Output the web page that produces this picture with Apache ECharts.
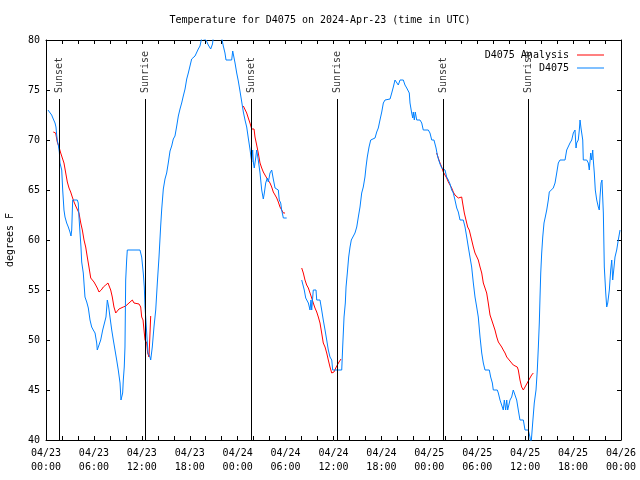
<!DOCTYPE html>
<html><head><meta charset="utf-8">
<script src="https://cdn.jsdelivr.net/npm/echarts@6/dist/echarts.min.js"></script>
<style>html,body{margin:0;padding:0;background:#fff}#c{width:640px;height:480px}</style>
</head><body><div id="c"></div>
<script>
const titleText = 'Temperature for D4075 on 2024-Apr-23 (time in UTC)';
const xTickLabels = ['04/23\n00:00','04/23\n06:00','04/23\n12:00','04/23\n18:00','04/24\n00:00','04/24\n06:00','04/24\n12:00','04/24\n18:00','04/25\n00:00','04/25\n06:00','04/25\n12:00','04/25\n18:00','04/26\n00:00'];
// hours since 04/23 00:00 UTC
const sunTimes = [1.67, 12.44, 25.7, 36.48, 49.77, 60.4];
const sunLabels = ['Sunset','Sunrise','Sunset','Sunrise','Sunset','Sunrise'];

const blueTime = [0.25,0.5,0.71,0.91,1.13,1.25,1.34,1.41,1.54,1.67,
1.75,1.97,2.09,2.25,2.38,2.59,2.79,3.0,3.13,3.22,
3.34,3.92,4.04,4.13,4.26,4.38,4.47,4.67,4.88,5.1,
5.3,5.51,5.72,5.92,6.14,6.35,6.42,6.67,6.85,7.1,
7.26,7.51,7.68,7.85,8.01,8.23,8.43,8.64,8.85,9.05,
9.27,9.39,9.6,9.68,9.8,9.89,9.98,10.1,10.18,11.77,
11.98,12.18,12.31,12.4,12.61,12.77,13.02,13.11,13.31,13.52,
13.74,13.94,14.15,14.36,14.49,14.69,14.9,15.11,15.31,15.53,
15.74,15.94,16.15,16.37,16.57,16.78,16.99,17.19,17.41,17.62,
17.82,18.03,18.24,18.66,19.07,19.28,19.5,20.04,20.32,20.62,
20.85,20.95,21.54,22.0,22.2,22.41,22.54,23.25,23.38,23.54,
23.67,23.88,24.08,24.29,24.51,24.71,24.92,25.13,25.33,25.54,
25.67,25.76,25.88,25.96,26.08,26.26,26.38,26.58,26.8,27.01,
27.21,27.34,27.51,27.71,27.84,28.05,28.26,28.46,28.68,29.09,
29.21,29.39,29.51,29.72,30.14,
31.0,
32.02,32.22,32.34,32.52,32.64,32.85,33.06,33.18,33.27,33.47,
33.81,33.9,34.31,34.52,34.72,34.94,35.15,35.35,35.56,35.78,
35.9,37.03,37.15,37.32,37.48,37.57,37.73,37.9,38.07,38.23,
38.48,38.69,38.91,39.11,39.32,39.53,39.73,39.94,40.07,40.23,
40.45,40.66,41.2,41.41,41.61,41.82,42.04,42.24,42.45,43.08,
43.29,43.49,43.7,43.91,44.11,44.33,44.74,44.95,45.17,45.37,
45.49,45.58,45.79,45.92,45.99,46.12,46.24,46.42,46.83,47.05,
47.24,47.87,48.08,48.3,48.58,48.84,49.0,49.17,49.34,49.55,
49.75,49.96,50.17,50.38,50.59,50.8,51.0,51.21,51.43,51.63,
51.84,52.25,52.47,52.68,52.88,53.09,53.3,53.51,53.72,53.93,
54.13,54.35,54.56,54.76,54.97,55.51,55.68,55.89,56.01,56.51,
56.64,56.85,57.06,57.26,57.39,57.56,57.69,57.81,58.01,58.1,
58.31,58.51,58.73,58.94,59.14,59.35,59.77,59.98,60.39,60.6,
60.73,60.94,61.14,61.36,61.52,61.65,61.77,61.86,61.95,62.07,
62.2,62.36,62.52,62.7,62.9,63.02,63.24,63.52,63.74,63.95,
64.15,64.36,64.99,65.2,65.4,65.61,65.83,66.03,66.24,66.37,
66.45,66.65,66.78,66.87,66.99,67.21,67.28,67.71,67.91,68.03,
68.21,68.33,68.46,68.53,68.66,68.78,68.96,69.16,69.28,69.37,
69.5,69.62,69.79,69.91,70.09,70.21,70.34,70.54,70.71,70.84,
70.96,71.09,71.25,71.46,71.66,71.88];
const blueTemp = [73,73,72.5,72.1,71.7,71.3,70.5,70,69.5,68.8,
67.7,67,65,63,62.3,61.7,61.3,60.8,60.4,61,
64,64,63.7,62.3,60.7,59.3,57.8,56.7,54.3,53.8,
53.2,52,51.3,51,50.7,49.7,49,49,50,51,
51,52.3,54,53.3,52.3,51,50,49,48,47,
45.7,44,44.7,46,47.3,49.3,56,58,59,59,
58.3,56.7,55.3,53.3,50.7,48.7,48.3,48,49.3,51.3,
53,55.7,58.3,61.4,63.1,65.1,66.1,66.7,67.7,68.9,
69.4,70.1,70.4,71.4,72.4,73.1,73.7,74.4,75.1,76.1,
76.7,77.4,78.1,78.4,79.1,79.4,80.2,80,79.5,79.1,
79.6,80.3,80.5,80.2,79.4,78.7,78,78,78.9,78.9,
77.7,76.7,75.9,74.9,73.8,72.8,72,71.3,70.2,69.1,
68.3,67.8,69,67.8,67.2,68.2,69,68,66.7,65,
64.1,64.7,65.7,66.2,65.8,66.7,67,66.1,65.2,65,
64,63.7,63,62.2,62.2,
null,
56,56,55,54.2,54,53.7,53,54,53,55,
55,54,54,53,52,51,50,49,48.3,48,
47,47,49.3,52.3,53.7,55.3,56.7,58.3,59.3,60,
60.2,60.7,61.3,62.3,63.3,64.7,65.3,66.3,67.3,68.3,
69.3,70,70.2,70.8,71.2,72,72.8,73.7,74,74.1,
74.7,75.3,76,76,75.5,76,76,75.5,75.2,75,
74.7,73.7,72.7,72.2,72.8,72,72.8,72,72,71.7,
71,71,70.7,70,70,69.2,68.5,68,67.6,67.2,
67,67,66.3,66,65.6,65,64.7,64,63.2,62.8,
62,62,61.3,60.3,59.3,58.3,57.3,55.7,54.3,53.3,
52.3,50.3,48.7,47.7,47,47,46.3,45.7,45,45,
44.7,44,44,43,44,43,44,43,43,44,
44.3,45,45,44,43,42,42,41,41,40.3,
39.5,41.7,43.7,45,47,49.3,51.7,54.3,56.7,58.7,
60.3,61.7,62.3,63,64,64.8,65,65.2,65.7,66.7,
67.7,68,68,69,69.2,69.7,70,70.7,71,69.2,
69.7,70,71,72,71.2,70,68,68,67.7,67,
68.7,68,69,68,66.7,65,64,63.3,63,64.3,
65.7,66,62.7,57.3,54.7,53.3,53.7,55,57,58,
56,57,58.3,59,60,61];

const redTime = [0.91,1.21,1.41,1.63,1.84,2.04,2.25,2.47,2.67,2.88,
3.09,3.29,3.51,3.72,3.92,4.13,4.35,4.55,4.76,4.97,
5.17,5.38,5.6,5.8,6.01,6.22,6.42,6.64,6.76,6.92,
7.18,7.48,7.76,7.89,8.1,8.3,8.51,8.73,8.93,9.14,
9.35,9.68,9.98,10.18,10.39,10.61,10.81,11.02,11.23,11.65,
11.86,11.98,12.15,12.27,12.4,12.61,12.73,12.9,13.11,
18.0,
24.71,24.92,25.13,25.33,25.54,25.76,26.05,26.17,26.38,26.58,
26.8,27.01,27.21,27.42,27.64,27.84,28.05,28.26,28.46,28.68,
28.89,29.09,29.3,29.51,29.72,29.93,
31.0,
32.02,32.22,32.43,32.64,32.85,33.06,33.27,33.47,33.68,33.9,
34.1,34.31,34.52,34.72,34.94,35.15,35.35,35.56,35.78,35.9,
36.06,36.28,36.48,36.69,36.94,
42.0,
48.92,49.12,49.34,49.55,49.75,49.96,50.17,50.38,50.59,50.8,
51.0,51.21,51.43,51.63,51.84,52.05,52.17,52.38,52.59,52.8,
53.0,53.3,53.51,53.72,53.93,54.13,54.35,54.56,54.76,54.97,
55.18,55.38,55.6,55.81,56.01,56.22,56.44,56.64,56.85,57.06,
57.26,57.48,57.69,57.89,58.1,58.31,58.51,58.73,59.01,59.14,
59.35,59.56,59.77,59.98,60.19,60.39,60.6,60.81,61.02];
const redTemp = [70.8,70.7,69.8,69.3,68.7,68.5,67.7,66.7,65.8,65.2,
64.8,64.3,63.8,63.4,63.5,62.7,61.7,61,60,59.3,
58.3,57.3,56.2,56,55.8,55.5,55.2,54.8,54.7,55,
55.3,55.5,55.7,55.7,55,54.3,53.3,52.7,52.8,53.1,
53.2,53.3,53.4,53.5,53.7,53.8,54,53.7,53.7,53.6,
53.3,52.3,52,51,50,49.7,48.7,48.3,52.4,
null,
73.4,73.3,72.7,72.2,71.7,71.1,71.1,70.3,69.5,68.7,
67.7,67.2,66.8,66.5,66.2,66,65.7,65.3,64.8,64.5,
64.2,63.8,63.3,63,62.7,62.7,
null,
57.2,56.7,56,55.5,55.2,54.7,54.2,53.7,53.2,52.8,
52.3,51.7,50.7,49.7,49.3,48.7,48,47.3,46.7,46.5,
46.8,47.2,47.3,47.8,48.1,
null,
68.7,68.2,67.7,67.3,66.8,66.7,66.2,65.8,65.7,65.2,
64.8,64.5,64.3,64.2,64,64.3,63.7,62.7,62,61.3,
61,60,59.3,58.7,58.5,58,57.3,56.7,55.7,55.5,
54.7,53.7,52.5,52,51.8,51,50.3,49.8,49.7,49.3,
49,48.7,48.3,48.1,47.9,47.8,47.5,47.3,47.3,47,
46,45.3,45,45.3,45.6,45.9,46.2,46.5,46.7];

const FONT = '"DejaVu Sans Mono", monospace';
function pairs(t, v) { return t.map((x, i) => [x, v[i] === null ? '-' : v[i]]); }

const Y_MIN = 40, Y_MAX = 80, LINE_TOP = 74.1, LABEL_AT = 74.7;

const xBase = {
  type: 'value', min: 0, max: 72, interval: 6,
  axisLine: { show: true, onZero: false, lineStyle: { color: '#000', width: 1 } },
  axisTick: { show: true, inside: true, length: 4, lineStyle: { color: '#000' } },
  minorTick: { show: true, splitNumber: 3, length: 4, lineStyle: { color: '#000' } },
  splitLine: { show: false }
};
const yBase = {
  type: 'value', min: Y_MIN, max: Y_MAX, interval: 5,
  axisLine: { show: true, onZero: false, lineStyle: { color: '#000', width: 1 } },
  axisTick: { show: true, inside: true, length: 4, lineStyle: { color: '#000' } },
  splitLine: { show: false }
};

const chart = echarts.init(document.getElementById('c'), null, { renderer: 'canvas' });
chart.setOption({
  animation: false,
  backgroundColor: '#fff',
  title: {
    text: titleText, left: 'center', top: 10,
    textStyle: { fontFamily: FONT, fontSize: 10, fontWeight: 'normal', color: '#000' }
  },
  legend: {
    data: ['D4075 Analysis', 'D4075'],
    orient: 'vertical', right: 31, top: 44, align: 'right',
    icon: 'rect', itemWidth: 27, itemHeight: 1, itemGap: 1,
    selectedMode: false,
    textStyle: { fontFamily: FONT, fontSize: 10, color: '#000', lineHeight: 12, padding: [0, 3, 0, 0] }
  },
  grid: { left: 46, right: 19, top: 40, bottom: 40, containLabel: false, outerBoundsMode: 'none' },
  xAxis: [
    Object.assign({}, xBase, {
      position: 'bottom',
      axisLabel: {
        formatter: v => xTickLabels[Math.round(v / 6)],
        fontFamily: FONT, fontSize: 10, color: '#000', lineHeight: 14, margin: 6,
        showMinLabel: true, showMaxLabel: true, hideOverlap: false
      }
    }),
    Object.assign({}, xBase, { position: 'top', axisLabel: { show: false } })
  ],
  yAxis: [
    Object.assign({}, yBase, {
      position: 'left',
      name: 'degrees F', nameLocation: 'middle', nameGap: 31,
      nameTextStyle: { fontFamily: FONT, fontSize: 10, color: '#000' },
      axisLabel: { fontFamily: FONT, fontSize: 10, color: '#000', margin: 6 }
    }),
    Object.assign({}, yBase, { position: 'right', axisLabel: { show: false } })
  ],
  series: [
    {
      name: 'sun', type: 'scatter', symbolSize: 0, silent: true, z: 1,
      data: sunTimes.map((t, i) => ({ value: [t, LABEL_AT], name: sunLabels[i] })),
      label: {
        show: true, formatter: '{b}', position: 'right', distance: 0, rotate: 90,
        align: 'left', verticalAlign: 'middle',
        fontFamily: FONT, fontSize: 10, color: '#000'
      },
      markLine: {
        silent: true, symbol: ['none', 'none'], animation: false,
        label: { show: false },
        lineStyle: { color: '#000', width: 1, type: 'solid' },
        data: sunTimes.map(t => [{ coord: [t, Y_MIN] }, { coord: [t, LINE_TOP] }])
      }
    },
    {
      name: 'D4075 Analysis', type: 'line', showSymbol: false, connectNulls: false, z: 2,
      color: '#ff0000', lineStyle: { color: '#ff0000', width: 1 },
      data: pairs(redTime, redTemp)
    },
    {
      name: 'D4075', type: 'line', showSymbol: false, connectNulls: false, z: 3,
      color: '#0080ff', lineStyle: { color: '#0080ff', width: 1 },
      data: pairs(blueTime, blueTemp)
    }
  ]
});
</script>
</body></html>
